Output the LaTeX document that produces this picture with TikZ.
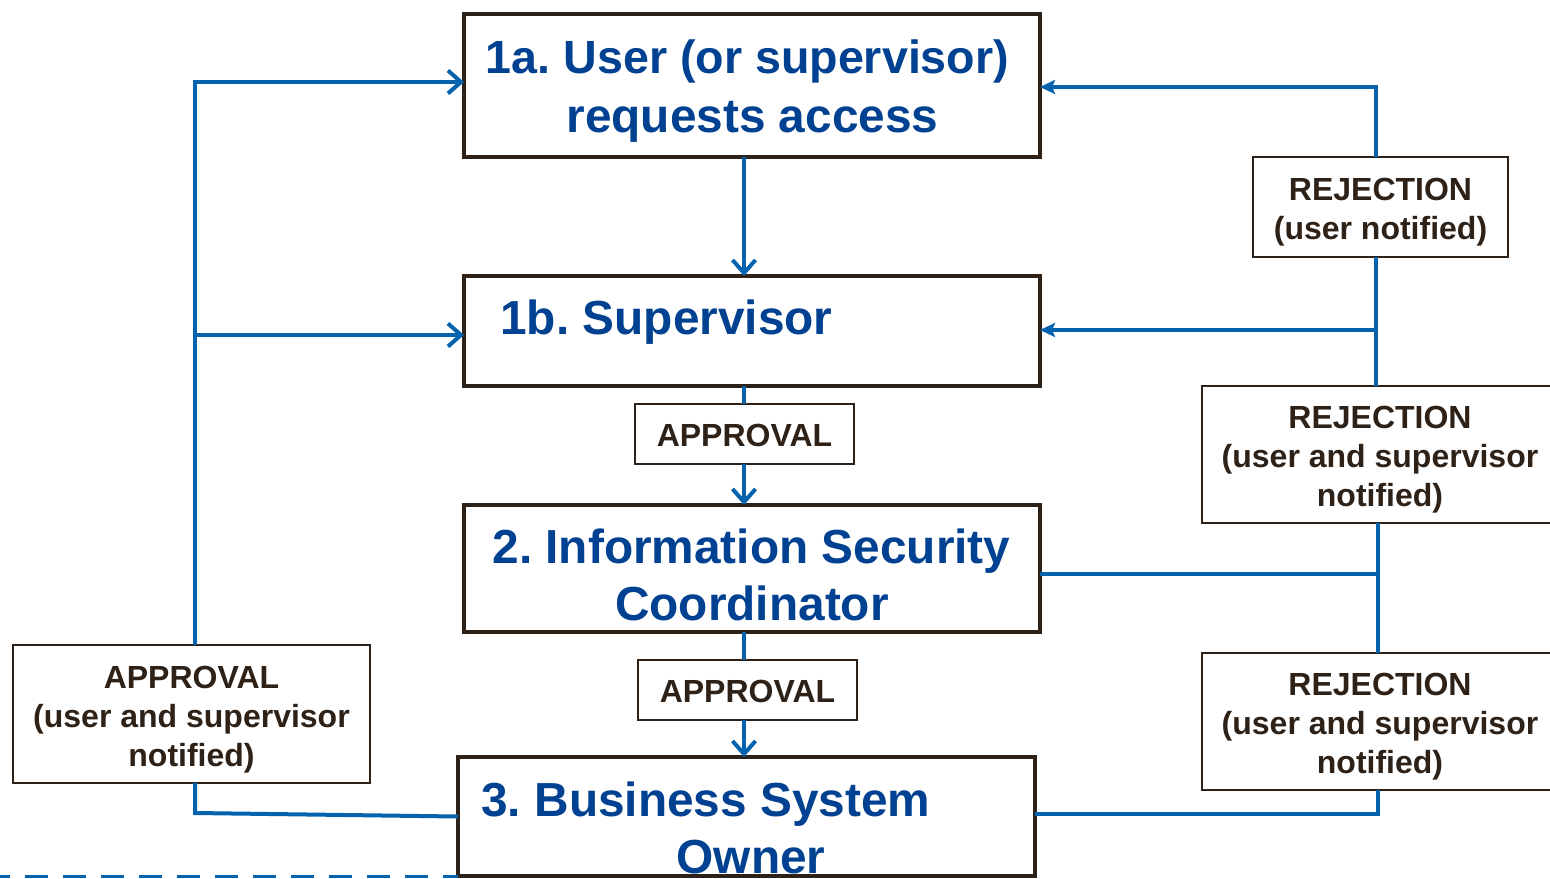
\documentclass[tikz,border=0pt]{standalone}
\usepackage{fontspec}
\setmainfont{Liberation Sans}
\usetikzlibrary{arrows.meta}
\frenchspacing
\definecolor{tblue}{RGB}{0,65,145}
\definecolor{lblue}{RGB}{5,99,174}
\definecolor{dark}{RGB}{46,33,23}
\tikzset{
  bigbox/.style={draw=dark, line width=2pt, fill=white, inner sep=0pt, outer sep=0pt},
  smallbox/.style={draw=dark, line width=1pt, fill=white, inner sep=0pt, outer sep=0pt},
  smalltext/.style={inner sep=0pt, align=center, text=dark, font=\fontsize{16pt}{19.5pt}\selectfont\bfseries},
  bigtext/.style={text=tblue, inner sep=0pt, anchor=base, font=\fontsize{23.9pt}{29pt}\selectfont\bfseries},
  flow/.style={draw=lblue, line width=2pt},
  barb/.style={flow, -{Straight Barb[length=6.5pt,width=11.5pt]}},
  solid arrow/.style={flow, -{Stealth[length=7.5pt,width=7pt,inset=1.5pt]}},
  dashline/.style={draw=lblue, line width=1.5pt, dash pattern=on 11.5pt off 7.5pt, dash phase=6.5pt}
}
\begin{document}
\begin{tikzpicture}[x=0.5pt,y=-0.5pt]
\useasboundingbox (0,0) rectangle (1550,878);
% main boxes
\node[bigbox, minimum width=288pt, minimum height=71.5pt] (b1a) at (752,85.5) {};
\node[bigbox, minimum width=288pt, minimum height=55pt] (b1b) at (752,331) {};
\node[bigbox, minimum width=288pt, minimum height=63.5pt] (b2) at (752,568.5) {};
\node[bigbox, minimum width=288.5pt, minimum height=59.5pt] (b3) at (746.5,816.5) {};
% texts of main boxes
\node[bigtext, font=\fontsize{23.3pt}{29pt}\selectfont\bfseries] (t1a1) at (747.5,73) {1a. User (or supervisor)};
\node[bigtext] (t1a2) at (752.5,132) {requests access};
\node[bigtext, anchor=base west] (t1b) at (500,334) {1b. Supervisor};
\node[bigtext] (t21) at (751.5,563) {2. Information Security};
\node[bigtext] (t22) at (752,620) {Coordinator};
\node[bigtext, anchor=base west] (t31) at (481,816) {3. Business System};
\node[bigtext] (t32) at (751,873) {Owner};
% coordinates for connector routing
\coordinate (cx) at (744,0);
\coordinate (lb) at (195,813);
\coordinate (lt) at (195,82);
\coordinate (lm) at (195,335);
\coordinate (rt) at (1376,87);
\coordinate (rm) at (1376,330);
\coordinate (rl) at (1378,574);
\coordinate (rb) at (1378,814);
\coordinate (dl) at (0,876.5);
% small boxes
\node[smallbox, minimum width=109.5pt, minimum height=30pt] (ap1) at (744.5,434) {};
\node[smallbox, minimum width=109.5pt, minimum height=30pt] (ap2) at (747.5,690) {};
\node[smallbox, minimum width=127.5pt, minimum height=50pt] (rj1) at (1380.5,207) {};
\node[smallbox, minimum width=178pt, minimum height=68.5pt] (rj2) at (1380,454.5) {};
\node[smallbox, minimum width=178pt, minimum height=68.5pt] (rj3) at (1380,721.5) {};
\node[smallbox, minimum width=178.5pt, minimum height=69pt] (apL) at (191.5,714) {};
% small box texts
\node[smalltext, yshift=-0.5pt] (ap1t) at (ap1) {APPROVAL};
\node[smalltext, yshift=-0.5pt] (ap2t) at (ap2) {APPROVAL};
\node[smalltext, yshift=-2.5pt] (rj1t) at (rj1) {REJECTION\\(user notified)};
\node[smalltext, yshift=-2.75pt] (rj2t) at (rj2) {REJECTION\\(user and supervisor\\notified)};
\node[smalltext, yshift=-2.75pt] (rj3t) at (rj3) {REJECTION\\(user and supervisor\\notified)};
\node[smalltext, yshift=-2.75pt] (apLt) at (apL) {APPROVAL\\(user and supervisor\\notified)};
% centre column
\draw[barb] (b1a.south -| cx) -- (b1b.north -| cx);
\draw[flow] (b1b.south -| cx) -- (ap1.north -| cx);
\draw[barb] (ap1.south -| cx) -- (b2.north -| cx);
\draw[flow] (b2.south -| cx) -- (ap2.north -| cx);
\draw[barb] (ap2.south -| cx) -- (b3.north -| cx);
% left loop
\draw[flow] (b3.west) -- (lb) -- (lb |- apL.south);
\draw[barb] (apL.north -| lt) -- (lt) -- (lt -| b1a.west);
\draw[barb] (lm) -- (lm -| b1b.west);
% right loop
\draw[solid arrow] (rj1.north -| rt) -- (rt) -- (rt -| b1a.east);
\draw[flow] (rj1.south -| rt) -- (rj2.north -| rt);
\draw[solid arrow] (rm) -- (rm -| b1b.east);
\draw[flow] (rj2.south -| rl) -- (rj3.north -| rl);
\draw[flow] (b2.east |- rl) -- (rl);
\draw[flow] (rj3.south -| rb) -- (rb) -- (rb -| b3.east);
% dashed line
\draw[dashline] (dl) -- (dl -| b3.west);
\end{tikzpicture}
\end{document}
